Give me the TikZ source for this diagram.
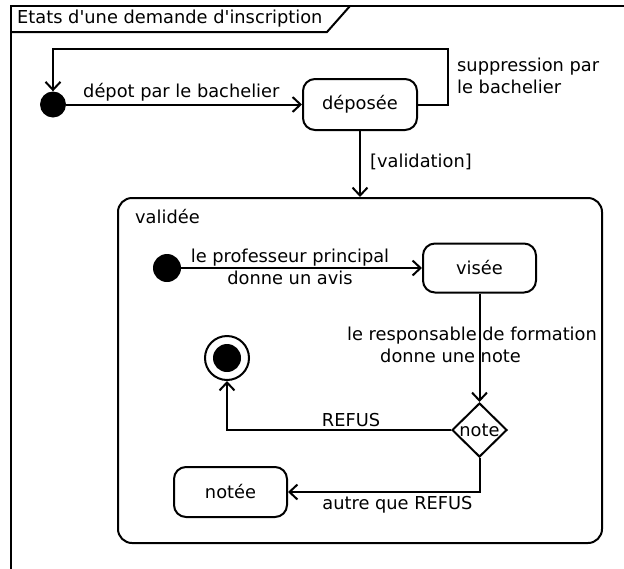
\documentclass[tikz,border=0pt]{standalone}
\usepackage{fontspec}
\newfontfamily\dvfont{DejaVu Sans}
\usetikzlibrary{arrows.meta,shapes.geometric}
\begin{document}
\begin{tikzpicture}[x=1pt,y=-1pt,
  font=\dvfont\fontsize{17.8}{22}\selectfont,
  ln/.style={line width=2pt, draw=black},
  arr/.style={ln, -{Straight Barb[length=8pt,width=15pt,line width=2pt]}},
  statebox/.style={ln, rounded corners=12pt, inner sep=0pt},
  txt/.style={inner sep=0pt, text=black},
  initdot/.style={circle, fill=black, inner sep=0pt}
]
\useasboundingbox (0,0) rectangle (624,568);
\clip (0,0) rectangle (624,568);
\fill[white] (0,0) rectangle (624,568);

% frame
\draw[ln] (11,580) -- (11,6) -- (640,6);
\draw[ln] (11,32) -- (327,32) -- (350,6);
\node[txt, anchor=west] (title) at (17,19) {Etats d'une demande d'inscription};

% top level
\node[initdot, minimum size=26pt] (i1) at (53,104.5) {};
\node[statebox, minimum width=114pt, minimum height=51pt] (dep) at (360,104.5) {déposée};
\coordinate (lp) at (448,49);
\draw[arr] (i1) -- (dep);
\node[txt, anchor=west] (l1) at (83,92) {dépot par le bachelier};
\draw[arr] (dep.east) -| (lp) -| (i1.north);
\node[txt, anchor=west, align=left] (l2) at (457,76) {suppression par\\le bachelier};

% validee composite
\node[statebox, rounded corners=14pt, minimum width=484pt, minimum height=345pt] (val) at (360,370.5) {};
\node[txt, anchor=west] (valt) at (135,217) {validée};
\draw[arr] (dep.south) -- (val.north);
\node[txt, anchor=west] (l3) at (370,162) {[validation]};

% inner
\node[initdot, minimum size=28pt] (i2) at (167,268) {};
\node[statebox, minimum width=113pt, minimum height=49pt] (vis) at (479.5,268) {visée};
\draw[arr] (i2) -- (vis);
\node[txt, align=center] (l4) at (290,266.5) {le professeur principal\\donne un avis};

\node[diamond, ln, inner sep=0pt, minimum width=55pt, minimum height=54pt] (dia) at (479.5,430) {note};
\draw[arr] (vis.south) -- (dia.north);
\node[txt, anchor=west, align=left] (l5) at (347,345) {le responsable de formation\\\hspace*{33pt}donne une note};

\node[circle, ln, minimum size=44pt, inner sep=0pt] (fin) at (227,358) {};
\node[initdot, minimum size=28pt] (finin) at (fin.center) {};
\draw[arr] (dia.west) -| (fin.south);
\node[txt] (l6) at (351,420) {REFUS};

\node[statebox, minimum width=113pt, minimum height=50pt] (not) at (230.5,492) {notée};
\draw[arr] (dia.south) |- (not.east);
\node[txt] (l7) at (397.5,505) {autre que REFUS};
\end{tikzpicture}
\end{document}
